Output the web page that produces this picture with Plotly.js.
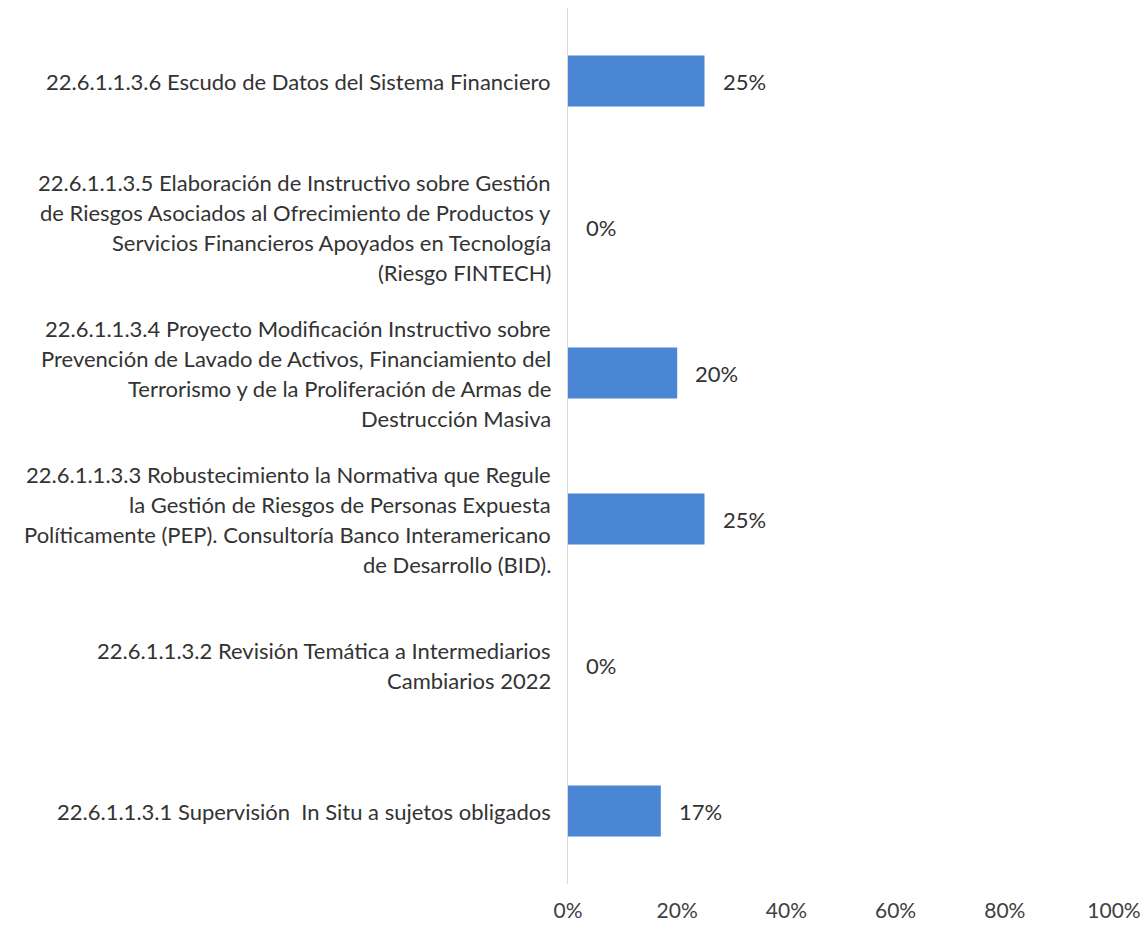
<!DOCTYPE html>
<html><head><meta charset="utf-8">
<script src="https://cdn.plot.ly/plotly-3.0.1.min.js"></script>
<style>body{margin:0;background:#fff}#c{width:1144px;height:934px}</style>
</head><body><div id="c"></div>
<script>
const codes = ["22.6.1.1.3.1","22.6.1.1.3.2","22.6.1.1.3.3","22.6.1.1.3.4","22.6.1.1.3.5","22.6.1.1.3.6"];
const labels = [
  "22.6.1.1.3.1 Supervisión  In Situ a sujetos obligados",
  "22.6.1.1.3.2 Revisión Temática a Intermediarios<br>Cambiarios 2022",
  "22.6.1.1.3.3 Robustecimiento la Normativa que Regule<br>la Gestión de Riesgos de Personas Expuesta<br>Políticamente (PEP). Consultoría Banco Interamericano<br>de Desarrollo (BID).",
  "22.6.1.1.3.4 Proyecto Modificación Instructivo sobre<br>Prevención de Lavado de Activos, Financiamiento del<br>Terrorismo y de la Proliferación de Armas de<br>Destrucción Masiva",
  "22.6.1.1.3.5 Elaboración de Instructivo sobre Gestión<br>de Riesgos Asociados al Ofrecimiento de Productos y<br>Servicios Financieros Apoyados en Tecnología<br>(Riesgo FINTECH)",
  "22.6.1.1.3.6 Escudo de Datos del Sistema Financiero"
];
const values = [0.17, 0, 0.25, 0.20, 0, 0.25];
const valueLabels = ["17%","0%","25%","20%","0%","25%"];
const tickVals = [0, 0.2, 0.4, 0.6, 0.8, 1.0];
const tickText = ["0%","20%","40%","60%","80%","100%"];

const FONT = "Lato, 'Open Sans', sans-serif";
const annotations = [];
codes.forEach((c, k) => {
  const lines = labels[k].split("<br>");
  const n = lines.length;
  lines.forEach((ln, i) => {
    annotations.push({
      xref: "paper", yref: "y", x: 0, y: k, xanchor: "right", yanchor: "middle",
      xshift: -15, yshift: ((n - 1) / 2 - i) * 30, showarrow: false, align: "center",
      text: ln, font: {family: FONT, size: 22, color: "#333333"}
    });
  });
  annotations.push({
    xref: "x", yref: "y", x: values[k], y: k, xanchor: "left", yanchor: "middle",
    xshift: 16, showarrow: false, text: valueLabels[k],
    font: {family: FONT, size: 22, color: "#333333"}
  });
});

const trace = {
  type: "bar", orientation: "h", x: values, y: codes,
  marker: {color: "#4a86d3", line: {width: 0}},
  hoverinfo: "none"
};

const layout = {
  width: 1144, height: 934,
  margin: {l: 568, r: 30, t: 8, b: 50},
  paper_bgcolor: "#ffffff", plot_bgcolor: "#ffffff",
  bargap: 0.65,
  showlegend: false,
  xaxis: {range: [0, 1], tickvals: tickVals, ticktext: tickText, showgrid: false,
    zeroline: false, showline: false, ticks: "", ticklabelstandoff: 12,
    tickfont: {family: FONT, size: 21, color: "#404040"}, fixedrange: true},
  yaxis: {type: "category", categoryorder: "array", categoryarray: codes,
    showticklabels: false, showline: true, linecolor: "#d9d9d9", linewidth: 1.5,
    showgrid: false, zeroline: false, ticks: "", fixedrange: true},
  annotations: annotations
};
Plotly.newPlot("c", [trace], layout, {displayModeBar: false, staticPlot: true});
</script></body></html>
